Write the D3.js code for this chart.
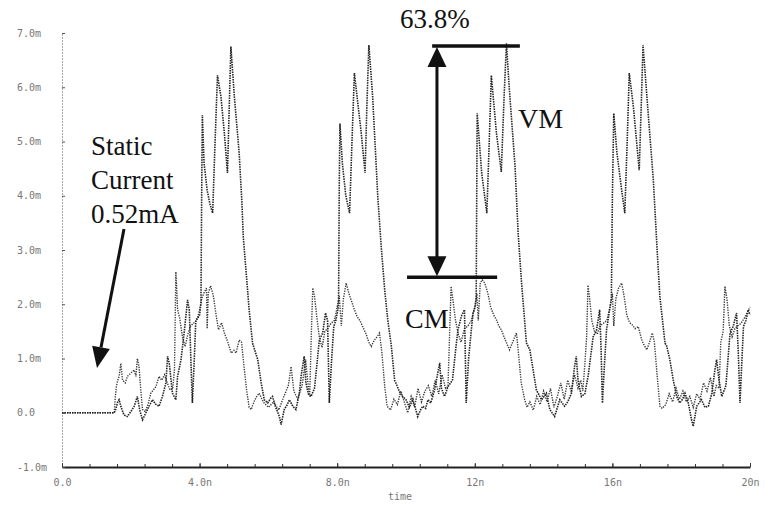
<!DOCTYPE html>
<html>
<head>
<meta charset="utf-8">
<script src="https://cdn.jsdelivr.net/npm/d3@7"></script>
<style>
  body { margin: 0; background: #fff; }
  .tick text { font-family: "DejaVu Sans Mono", monospace; font-size: 10px; fill: #777; }
  .note { font-family: "Liberation Serif", "Times New Roman", serif; fill: #111; }
</style>
</head>
<body>
<div id="chart"></div>
<script>
// supply current vs time (ns, mA)
const vmTime = [0, 1.52, 1.56, 1.62, 1.66, 1.72, 1.80, 1.90, 2.00, 2.10, 2.19, 2.26, 2.34, 2.44, 2.53, 2.63, 2.72, 2.82, 2.92, 3.02, 3.07, 3.12, 3.21, 3.31, 3.36, 3.46, 3.55, 3.65, 3.70, 3.75, 3.79, 3.84, 3.89, 3.95, 4.00,
  4.04, 4.06, 4.08, 4.13, 4.22, 4.30, 4.38, 4.45, 4.52, 4.62, 4.72, 4.81, 4.86, 4.91, 5.01, 5.15, 5.23, 5.27, 5.39, 5.44, 5.54, 5.69, 5.79, 5.88, 5.98, 6.07, 6.12, 6.20, 6.32, 6.37, 6.46, 6.55, 6.61, 6.71, 6.80, 6.90, 6.95, 7.04, 7.09, 7.16, 7.24, 7.34, 7.42, 7.48, 7.58, 7.66, 7.72, 7.77, 7.84, 7.90, 7.96, 8.02,
  8.04, 8.06, 8.08, 8.15, 8.25, 8.36, 8.43, 8.50, 8.60, 8.69, 8.81, 8.86, 8.92, 9.03, 9.18, 9.28, 9.38, 9.47, 9.57, 9.67, 9.81, 9.90, 10.00, 10.10, 10.20, 10.34, 10.42, 10.49, 10.57, 10.64, 10.72, 10.83, 10.98, 11.03, 11.12, 11.22, 11.35, 11.45, 11.51, 11.62, 11.70, 11.75, 11.82, 11.90, 11.95, 12.01,
  12.04, 12.06, 12.07, 12.20, 12.35, 12.42, 12.48, 12.63, 12.77, 12.85, 12.92, 13.00, 13.17, 13.26, 13.36, 13.50, 13.60, 13.79, 13.94, 14.08, 14.18, 14.32, 14.47, 14.61, 14.70, 14.81, 14.90, 14.95, 15.00, 15.10, 15.20, 15.30, 15.44, 15.54, 15.63, 15.67, 15.71, 15.77, 15.83, 15.92,
  15.97, 16.00, 16.04, 16.13, 16.27, 16.36, 16.43, 16.49, 16.61, 16.78, 16.84, 16.89, 17.04, 17.19, 17.30, 17.38, 17.53, 17.57, 17.67, 17.77, 17.87, 17.96, 18.04, 18.11, 18.20, 18.30, 18.35, 18.45, 18.59, 18.69, 18.79, 18.89, 18.98, 19.03, 19.10, 19.18, 19.30, 19.42, 19.51, 19.61, 19.66, 19.71, 19.76, 19.81, 19.88, 19.95, 20.00];
const vmCurrent = [0, 0, 0.06, 0.20, 0.24, 0.10, -0.04, -0.07, 0.02, 0.12, 0.30, 0.05, -0.13, 0.00, 0.12, 0.24, 0.16, 0.12, 0.30, 0.55, 1.04, 0.90, 0.36, 0.24, 0.67, 0.98, 1.47, 2.08, 1.90, 0.90, 0.18, 0.90, 1.71, 1.75, 1.80,
  2.02, 4.00, 5.49, 4.60, 4.10, 3.85, 3.68, 5.00, 6.22, 5.83, 5.15, 4.42, 5.60, 6.75, 5.83, 4.79, 3.87, 3.24, 2.30, 1.90, 1.28, 0.98, 0.55, 0.24, 0.18, 0.27, 0.30, 0.12, -0.07, -0.22, 0.06, 0.15, 0.24, 0.12, 0.06, 0.36, 0.67, 1.04, 0.55, 0.35, 0.30, 0.45, 0.95, 1.34, 1.47, 1.84, 1.70, 0.18, 1.00, 1.59, 1.70, 1.90,
  2.05, 4.20, 5.33, 4.60, 4.00, 3.68, 5.00, 6.26, 5.70, 5.21, 4.42, 5.60, 6.78, 5.83, 3.98, 3.06, 2.27, 1.71, 1.25, 0.60, 0.39, 0.30, 0.24, 0.10, 0.25, -0.07, 0.05, 0.12, 0.08, 0.24, 0.18, 0.42, 0.92, 0.45, 0.30, 0.48, 0.60, 1.20, 1.53, 1.80, 1.90, 0.18, 1.00, 1.53, 1.84, 1.95,
  2.10, 4.50, 5.52, 4.42, 3.68, 5.00, 6.22, 5.15, 4.44, 5.80, 6.81, 6.00, 4.54, 3.31, 2.39, 1.29, 1.16, 0.42, 0.24, 0.36, 0.06, -0.07, 0.24, 0.12, 0.20, 0.36, 0.85, 1.04, 0.60, 0.30, 0.35, 0.70, 1.40, 1.53, 1.90, 1.20, 0.18, 0.90, 1.53, 1.90,
  2.10, 4.00, 5.52, 4.80, 4.10, 3.68, 5.00, 6.26, 5.64, 4.47, 5.70, 6.78, 5.52, 4.29, 3.00, 2.14, 1.28, 1.25, 0.98, 0.60, 0.30, 0.18, 0.25, 0.36, 0.20, -0.13, -0.25, 0.12, 0.24, 0.10, 0.12, 0.36, 0.79, 0.98, 0.60, 0.30, 0.50, 1.47, 1.59, 1.84, 1.10, 0.18, 0.90, 1.59, 1.70, 1.90, 1.80];

const cmTime = [0, 1.52, 1.55, 1.58, 1.62, 1.66, 1.71, 1.76, 1.84, 1.90, 2.00, 2.10, 2.15, 2.19, 2.24, 2.29, 2.34, 2.42, 2.50, 2.58, 2.73, 2.82, 2.90, 2.98, 3.06, 3.14, 3.22, 3.27, 3.31, 3.36, 3.42, 3.50, 3.58, 3.66, 3.74, 3.82, 3.92, 4.00,
  4.06, 4.12, 4.20, 4.22, 4.25, 4.32, 4.40, 4.48, 4.55, 4.64, 4.72, 4.82, 4.92, 5.00, 5.06, 5.15, 5.22, 5.30, 5.37, 5.44, 5.50, 5.58, 5.66, 5.73, 5.85, 6.00, 6.15, 6.30, 6.45, 6.58, 6.66, 6.74, 6.85, 6.98, 7.08, 7.14, 7.20, 7.25, 7.29, 7.34, 7.40, 7.48, 7.56, 7.64, 7.72, 7.82, 7.92, 8.00,
  8.06, 8.12, 8.18, 8.26, 8.34, 8.42, 8.50, 8.58, 8.66, 8.74, 8.84, 8.92, 8.99, 9.08, 9.16, 9.23, 9.30, 9.38, 9.45, 9.55, 9.65, 9.75, 9.85, 9.95, 10.05, 10.15, 10.25, 10.35, 10.45, 10.55, 10.65, 10.75, 10.85, 10.95, 11.05, 11.15, 11.22, 11.27, 11.31, 11.36, 11.44, 11.52, 11.60, 11.70, 11.80, 11.90, 12.00,
  12.06, 12.10, 12.16, 12.22, 12.29, 12.38, 12.46, 12.55, 12.63, 12.70, 12.77, 12.88, 13.01, 13.10, 13.21, 13.26, 13.35, 13.45, 13.52, 13.60, 13.70, 13.80, 13.90, 14.00, 14.10, 14.20, 14.30, 14.40, 14.50, 14.60, 14.70, 14.80, 14.90, 15.00, 15.08, 15.14, 15.20, 15.25, 15.29, 15.34, 15.40, 15.48, 15.56, 15.64, 15.74, 15.84, 15.93,
  16.00, 16.04, 16.10, 16.18, 16.27, 16.34, 16.42, 16.50, 16.58, 16.66, 16.75, 16.85, 16.92, 17.00, 17.08, 17.16, 17.22, 17.30, 17.38, 17.45, 17.55, 17.65, 17.75, 17.85, 17.95, 18.05, 18.15, 18.25, 18.35, 18.45, 18.55, 18.65, 18.75, 18.85, 18.95, 19.02, 19.10, 19.15, 19.22, 19.27, 19.33, 19.40, 19.48, 19.56, 19.64, 19.74, 19.84, 19.92, 20.00];
const cmCurrent = [0, 0, 0.30, 0.48, 0.60, 0.67, 0.91, 0.60, 0.55, 0.67, 0.73, 0.79, 0.67, 1.00, 0.85, 0.42, 0.06, 0.02, 0.15, 0.36, 0.48, 0.67, 0.60, 0.70, 0.55, 0.42, 0.45, 0.80, 2.60, 1.90, 1.75, 1.40, 1.22, 1.45, 1.60, 1.65, 1.70, 1.90,
  2.10, 2.20, 2.30, 1.55, 2.20, 2.34, 2.15, 1.80, 1.53, 1.66, 1.47, 1.30, 1.10, 1.15, 1.10, 1.34, 1.30, 0.80, 0.40, 0.10, 0.06, 0.20, 0.30, 0.36, 0.20, 0.10, 0.20, 0.05, 0.30, 0.50, 0.85, 0.40, 0.25, 0.50, 0.98, 0.60, 0.30, 1.50, 2.30, 2.15, 1.80, 1.40, 1.20, 1.50, 1.55, 1.65, 1.70, 1.95,
  2.15, 1.60, 2.10, 2.39, 2.20, 2.05, 1.90, 1.77, 1.70, 1.59, 1.45, 1.30, 1.22, 1.34, 1.40, 1.47, 1.10, 0.50, 0.12, 0.05, 0.25, 0.15, 0.40, 0.20, 0.00, 0.30, 0.10, 0.45, 0.20, 0.40, 0.50, 0.30, 0.60, 0.35, 0.70, 0.45, 0.48, 1.50, 2.33, 2.10, 1.70, 1.45, 1.30, 1.55, 1.60, 1.70, 1.95,
  2.20, 1.70, 2.40, 2.45, 2.39, 2.20, 1.95, 1.80, 1.71, 1.60, 1.53, 1.35, 1.16, 1.30, 1.47, 1.16, 0.55, 0.24, 0.10, 0.20, 0.05, 0.30, 0.15, 0.40, 0.20, 0.45, 0.10, 0.30, 0.55, 0.25, 0.60, 0.40, 0.70, 0.45, 0.60, 0.40, 0.90, 1.40, 2.35, 2.10, 1.70, 1.50, 1.45, 1.60, 1.65, 1.70, 1.95,
  2.20, 1.60, 2.10, 2.30, 2.39, 2.15, 1.80, 1.66, 1.62, 1.55, 1.59, 1.35, 1.25, 1.16, 1.30, 1.47, 1.30, 0.70, 0.12, 0.08, 0.15, 0.35, 0.20, 0.45, 0.25, 0.40, 0.20, 0.30, 0.10, 0.35, 0.25, 0.55, 0.40, 0.65, 0.30, 0.50, 0.45, 1.30, 1.50, 2.33, 2.10, 1.60, 1.40, 1.55, 1.60, 1.65, 1.75, 1.85, 1.95];

const xTicks = [0, 4, 8, 12, 16, 20];
const xTickLabels = ["0.0", "4.0n", "8.0n", "12n", "16n", "20n"];
const yTicks = [-1, 0, 1, 2, 3, 4, 5, 6, 7];
const yTickLabels = ["-1.0m", "0.0", "1.0m", "2.0m", "3.0m", "4.0m", "5.0m", "6.0m", "7.0m"];

var width = 765, height = 507;
var margin = {top: 33, right: 15, bottom: 40, left: 62};

var svg = d3.select("#chart")
  .append("svg")
    .attr("width", width)
    .attr("height", height);

var x = d3.scaleLinear()
  .domain([0, 20])
  .range([margin.left, width - margin.right]);

var y = d3.scaleLinear()
  .domain([-1, 7])
  .range([height - margin.bottom, margin.top]);

// minor ticks on the time axis
svg.append("g")
  .attr("transform", "translate(0," + (height - margin.bottom) + ")")
  .call(d3.axisBottom(x).tickValues(d3.range(0, 20.01, 0.8)).tickSizeInner(-3).tickSizeOuter(0).tickFormat(""))
  .call(g => g.select(".domain").remove())
  .call(g => g.selectAll(".tick line").attr("stroke", "#333"));

// time axis
var xAxis = svg.append("g")
  .attr("transform", "translate(0," + (height - margin.bottom) + ")")
  .call(d3.axisBottom(x)
    .tickValues(xTicks)
    .tickFormat((d, i) => xTickLabels[i])
    .tickSizeInner(-4)
    .tickSizeOuter(0)
    .tickPadding(12));
xAxis.select(".domain").attr("stroke", "#222").attr("stroke-width", 2);
xAxis.selectAll(".tick line").attr("stroke", "#333");

svg.append("text")
  .attr("x", 400)
  .attr("y", 500)
  .attr("text-anchor", "middle")
  .style("font-family", "DejaVu Sans Mono, monospace")
  .style("font-size", "10px")
  .style("fill", "#777")
  .text("time");

// current axis (dotted)
var yAxis = svg.append("g")
  .attr("transform", "translate(" + margin.left + ",0)")
  .call(d3.axisLeft(y)
    .tickValues(yTicks)
    .tickFormat((d, i) => yTickLabels[i])
    .tickSizeInner(-3)
    .tickSizeOuter(0));
yAxis.select(".domain").attr("stroke", "#555").attr("stroke-dasharray", "1,2");
yAxis.selectAll(".tick line").attr("stroke", "#555");
yAxis.selectAll(".tick text")
  .attr("text-anchor", "start")
  .attr("x", 17 - margin.left);

// waveforms
var line = d3.line()
  .x(d => x(d[0]))
  .y(d => y(d[1]));

svg.append("path")
  .datum(d3.zip(cmTime, cmCurrent))
  .attr("fill", "none")
  .attr("stroke", "#3a3a3a")
  .attr("stroke-width", 1.4)
  .attr("stroke-dasharray", "1.3,1.2")
  .attr("d", line);

svg.append("path")
  .datum(d3.zip(vmTime, vmCurrent))
  .attr("fill", "none")
  .attr("stroke", "#222")
  .attr("stroke-width", 1.6)
  .attr("stroke-dasharray", "1.5,1")
  .attr("d", line);

// annotations
var ann = svg.append("g");

ann.append("text").attr("class", "note")
  .attr("x", 400).attr("y", 28)
  .style("font-size", "27px")
  .text("63.8%");

ann.append("line")
  .attr("x1", x(10.76)).attr("x2", x(13.31))
  .attr("y1", y(6.76)).attr("y2", y(6.76))
  .attr("stroke", "#111").attr("stroke-width", 3.5);

ann.append("line")
  .attr("x1", x(10.03)).attr("x2", x(12.65))
  .attr("y1", y(2.5)).attr("y2", y(2.5))
  .attr("stroke", "#111").attr("stroke-width", 3.5);

var ax = x(10.9), aTop = y(6.76) + 1, aBot = y(2.5) - 1;
ann.append("line")
  .attr("x1", ax).attr("x2", ax)
  .attr("y1", aTop + 18).attr("y2", aBot - 18)
  .attr("stroke", "#111").attr("stroke-width", 3);
ann.append("path")
  .attr("d", "M" + ax + "," + aTop + "L" + (ax - 9.5) + "," + (aTop + 20) + "L" + (ax + 9.5) + "," + (aTop + 20) + "Z")
  .attr("fill", "#111");
ann.append("path")
  .attr("d", "M" + ax + "," + aBot + "L" + (ax - 9.5) + "," + (aBot - 20) + "L" + (ax + 9.5) + "," + (aBot - 20) + "Z")
  .attr("fill", "#111");

ann.append("text").attr("class", "note")
  .attr("x", 518).attr("y", 128)
  .style("font-size", "28px")
  .text("VM");

ann.append("text").attr("class", "note")
  .attr("x", 405).attr("y", 328)
  .style("font-size", "28px")
  .text("CM");

var staticLines = ["Static", "Current", "0.52mA"];
ann.selectAll(".static")
  .data(staticLines)
  .enter()
  .append("text")
    .attr("class", "note static")
    .attr("x", 91)
    .attr("y", (d, i) => 155 + i * 34)
    .style("font-size", "27px")
    .text(d => d);

// arrow pointing at the static level
var tip = [97, 368], tail = [124, 229];
var dx = tip[0] - tail[0], dy = tip[1] - tail[1];
var len = Math.sqrt(dx * dx + dy * dy);
var ux = dx / len, uy = dy / len;
var bx = tip[0] - 21 * ux, by = tip[1] - 21 * uy;
ann.append("line")
  .attr("x1", tail[0]).attr("y1", tail[1])
  .attr("x2", bx).attr("y2", by)
  .attr("stroke", "#111").attr("stroke-width", 3);
ann.append("path")
  .attr("d", "M" + tip[0] + "," + tip[1] +
    "L" + (bx + 9 * uy) + "," + (by - 9 * ux) +
    "L" + (bx - 9 * uy) + "," + (by + 9 * ux) + "Z")
  .attr("fill", "#111");
</script>
</body>
</html>
